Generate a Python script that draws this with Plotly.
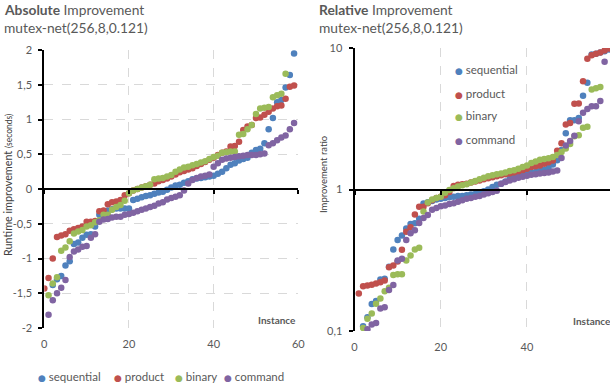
import plotly.graph_objects as go

W, H = 610, 384
FONT = "Lato"
GRAY = "#595959"
GRID = "#d9d9d9"

series_names = ["sequential", "product", "binary", "command"]
series_colors = ["#4F81BD", "#C0504D", "#9BBB59", "#8064A2"]

# ---------- Absolute improvement (seconds) ----------
abs_seq_x = list(range(2, 60))
abs_seq = [-1.38, -1.30, -1.25, -1.10, -1.04, -0.79, -0.77, -0.70, -0.66, -0.65, -0.54,
           -0.37, -0.35, -0.31, -0.29, -0.28, -0.28, -0.28, -0.28,
           -0.16, -0.14, -0.12, -0.10, -0.09, -0.07, -0.05, -0.04, -0.01, 0.02,
           0.05, 0.06, 0.09, 0.11, 0.14, 0.15, 0.16, 0.17, 0.18, 0.19,
           0.22, 0.25, 0.30, 0.35, 0.37, 0.41, 0.43, 0.45, 0.52, 0.56,
           0.58, 0.66, 0.86, 1.02, 1.25, 1.28, 1.46, 1.64, 1.95]

abs_prod_x = list(range(0, 60))
abs_prod = [-1.43, -1.28, -1.00, -0.69, -0.67, -0.65, -0.60, -0.58, -0.56, -0.54,
            -0.47, -0.47, -0.46, -0.32, -0.31, -0.22, -0.19, -0.18, -0.16, -0.09,
            -0.06, -0.02, 0.00, 0.02, 0.04, 0.06, 0.08, 0.11, 0.13, 0.15,
            0.18, 0.21, 0.24, 0.26, 0.28, 0.30, 0.33, 0.36, 0.39, 0.42,
            0.45, 0.49, 0.52, 0.54, 0.61, 0.62, 0.68, 0.85, 0.90, 0.92,
            1.02, 1.03, 1.07, 1.11, 1.16, 1.19, 1.20, 1.30, 1.47, 1.49]

abs_bin_x = list(range(1, 58))
abs_bin = [-1.53, -1.36, -1.27, -0.89, -0.84, -0.75, -0.64, -0.61, -0.59, -0.54,
           -0.52, -0.48, -0.45, -0.37, -0.37, -0.30, -0.26, -0.23, -0.17, -0.06,
           -0.02, 0.00, 0.02, 0.04, 0.06, 0.14, 0.15, 0.16, 0.18, 0.20,
           0.25, 0.28, 0.31, 0.32, 0.34, 0.36, 0.38, 0.40, 0.43, 0.46,
           0.48, 0.52, 0.53, 0.54, 0.54, 0.78, 0.79, 0.86, 0.92, 1.08,
           1.16, 1.17, 1.18, 1.32, 1.35, 1.37, 1.66]

abs_cmd_x = list(range(1, 60))
abs_cmd = [-1.81, -1.60, -1.50, -1.42, -1.31, -0.98, -0.90, -0.87, -0.83, -0.82,
           -0.70, -0.65, -0.47, -0.44, -0.43, -0.41, -0.40, -0.40, -0.37, -0.36,
           -0.34, -0.32, -0.30, -0.28, -0.26, -0.24, -0.21, -0.19, -0.15, -0.13,
           -0.11, -0.09, -0.02, 0.08, 0.13, 0.16, 0.18, 0.19, 0.21, 0.32,
           0.37, 0.42, 0.44, 0.45, 0.46, 0.47, 0.48, 0.49, 0.49, 0.49,
           0.50, 0.51, 0.63, 0.66, 0.70, 0.74, 0.77, 0.86, 0.95]

# ---------- Relative improvement (ratio) ----------
rel_seq_x = list(range(2, 60))
rel_seq = [0.108, 0.125, 0.155, 0.163, 0.231, 0.234, 0.285, 0.376, 0.439, 0.473,
           0.53, 0.571, 0.578, 0.621, 0.796, 0.813, 0.828, 0.849, 0.86, 0.87,
           0.88, 0.89, 0.90, 0.90, 0.91, 0.92, 0.93, 0.95, 0.97, 1.00,
           1.04, 1.08, 1.10, 1.14, 1.19, 1.24, 1.26, 1.28, 1.30, 1.31,
           1.33, 1.35, 1.38, 1.42, 1.50, 1.61, 1.90, 2.50, 3.09, 3.09,
           3.20, 4.60, 5.68, 9.00, 9.10, 9.30, 9.50, 9.75]

rel_prod_x = list(range(1, 60))
rel_prod = [0.184, 0.207, 0.210, 0.212, 0.217, 0.221, 0.227, 0.282, 0.290, 0.31,
            0.375, 0.502, 0.542, 0.665, 0.755, 0.755, 0.80, 0.84, 0.87, 0.89,
            0.91, 0.96, 1.06, 1.08, 1.09, 1.10, 1.12, 1.14, 1.16, 1.18,
            1.20, 1.22, 1.24, 1.26, 1.28, 1.30, 1.32, 1.34, 1.37, 1.40,
            1.44, 1.46, 1.48, 1.52, 1.56, 1.60, 1.88, 2.12, 2.88, 2.95,
            4.03, 4.05, 5.83, 8.40, 8.87, 9.10, 9.30, 9.60, 9.90]

rel_bin_x = list(range(2, 58))
rel_bin = [0.105, 0.122, 0.133, 0.156, 0.170, 0.191, 0.202, 0.249, 0.252, 0.252,
           0.315, 0.342, 0.376, 0.387, 0.70, 0.81, 0.85, 0.87, 0.89, 0.95,
           0.99, 1.02, 1.05, 1.07, 1.09, 1.12, 1.15, 1.18, 1.21, 1.24,
           1.26, 1.28, 1.30, 1.32, 1.35, 1.37, 1.40, 1.44, 1.48, 1.54,
           1.58, 1.62, 1.64, 1.66, 1.70, 1.75, 1.84, 1.95, 2.10, 2.38,
           2.42, 2.73, 2.78, 5.10, 5.20, 5.30]

rel_cmd_x = list(range(3, 59))
rel_cmd = [0.103, 0.111, 0.114, 0.144, 0.147, 0.195, 0.211, 0.315, 0.324, 0.439,
           0.491, 0.516, 0.58, 0.63, 0.66, 0.72, 0.74, 0.76, 0.77, 0.79,
           0.80, 0.82, 0.84, 0.86, 0.87, 0.89, 0.90, 0.92, 0.94, 0.96,
           0.98, 1.10, 1.13, 1.16, 1.18, 1.21, 1.23, 1.25, 1.27, 1.28,
           1.30, 1.31, 1.32, 1.34, 1.36, 1.67, 2.05, 2.20, 2.40, 3.04,
           3.48, 3.70, 3.88, 3.88, 4.22, 7.98]

abs_y_ticks = [-2, -1.5, -1, -0.5, 0, 0.5, 1, 1.5, 2]
abs_y_text = ["-2", "-1,5", "-1", "-0,5", "0", "0,5", "1", "1,5", "2"]
rel_y_ticks = [0.1, 1, 10]
rel_y_text = ["0,1", "1", "10"]
x_ticks = [0, 20, 40, 60]

abs_data = [(abs_seq_x, abs_seq), (abs_prod_x, abs_prod), (abs_bin_x, abs_bin), (abs_cmd_x, abs_cmd)]
rel_data = [(rel_seq_x, rel_seq), (rel_prod_x, rel_prod), (rel_bin_x, rel_bin), (rel_cmd_x, rel_cmd)]

fig = go.Figure()
for name, col, (xs, ys) in zip(series_names, series_colors, abs_data):
    fig.add_trace(go.Scatter(x=xs, y=ys, mode="markers", name=name, showlegend=False,
                             marker=dict(color=col, size=6.5, line=dict(width=0)),
                             xaxis="x", yaxis="y"))
for name, col, (xs, ys) in zip(series_names, series_colors, rel_data):
    fig.add_trace(go.Scatter(x=xs, y=ys, mode="markers", name=name, showlegend=False,
                             marker=dict(color=col, size=6.5, line=dict(width=0)),
                             xaxis="x2", yaxis="y2"))
# carriers for the horizontal axes drawn through y=0 / y=1
fig.add_trace(go.Scatter(x=[None], y=[None], xaxis="x3", yaxis="y", showlegend=False, hoverinfo="skip"))
fig.add_trace(go.Scatter(x=[None], y=[None], xaxis="x4", yaxis="y2", showlegend=False, hoverinfo="skip"))

L_dom = [44.3 / W, 298.3 / W]
R_dom = [354.5 / W, 1.0]
L_ydom = [1 - 328 / H, 1 - 50 / H]
R_ydom = [1 - 331 / H, 1 - 48 / H]

tickfont = dict(family=FONT, size=11, color=GRAY)
xcommon = dict(tickvals=x_ticks, showgrid=True, gridcolor=GRID, griddash="dash", gridwidth=1,
               zeroline=False, showline=False, ticks="outside", ticklen=6,
               tickcolor="rgba(0,0,0,0)", tickfont=tickfont)
ycommon = dict(showline=True, linecolor="black", linewidth=2, ticks="outside", ticklen=4,
               tickcolor="black", tickwidth=1.5, zeroline=False, tickfont=tickfont,
               ticklabelstandoff=4, gridcolor=GRID, gridwidth=1)
zcommon = dict(tickvals=x_ticks, showticklabels=False, ticks="outside", ticklen=4,
               tickcolor="black", tickwidth=1.5, showline=True, linecolor="black",
               linewidth=2, showgrid=False, zeroline=False, side="bottom", anchor="free")

fig.update_layout(
    width=W, height=H, margin=dict(l=0, r=0, t=0, b=0, autoexpand=False),
    paper_bgcolor="white", plot_bgcolor="white",
    font=dict(family=FONT, color=GRAY),
    showlegend=False,
    xaxis=dict(domain=L_dom, range=[0, 60], anchor="y", **xcommon),
    yaxis=dict(domain=L_ydom, range=[-2, 2], anchor="x", tickvals=abs_y_ticks,
               ticktext=abs_y_text, showgrid=True, griddash="dash", **ycommon),
    xaxis2=dict(domain=R_dom, range=[0, 59.25], anchor="y2", **xcommon),
    yaxis2=dict(domain=R_ydom, type="log", range=[-1, 1], anchor="x2",
                tickvals=rel_y_ticks, ticktext=rel_y_text, showgrid=True, **ycommon),
    xaxis3=dict(overlaying="x", range=[0, 60],
                position=L_ydom[0] + 0.5 * (L_ydom[1] - L_ydom[0]), **zcommon),
    xaxis4=dict(overlaying="x2", range=[0, 59.25],
                position=R_ydom[0] + 0.5 * (R_ydom[1] - R_ydom[0]), **zcommon),
)


def txt(text, x, y, xanchor="left", size=12, color=GRAY, angle=0):
    return dict(text=text, x=x / W, y=1 - y / H, xref="paper", yref="paper",
                xanchor=xanchor, yanchor="middle", showarrow=False, textangle=angle,
                font=dict(family=FONT, size=size, color=color))


ann = [
    txt("<b>Absolute</b> Improvement", 2, 10, size=13.8),
    txt("mutex-net(256,8,0.121)", 2, 27, size=13.8),
    txt("<b>Relative</b> Improvement", 317, 10, size=13.8),
    txt("mutex-net(256,8,0.121)", 317, 27, size=13.8),
    txt("<b>Instance</b>", 298.3, 319.5, xanchor="right", size=10),
    txt("<b>Instance</b>", 571, 320.5, size=10),
    txt("Runtime improvement <span style='font-size:8.5px'>(seconds)</span>", 8, 185,
        xanchor="center", size=10.8, color="#404040", angle=-90),
    txt("Improvement ratio", 323, 175, xanchor="center", size=9.5, color="#404040", angle=-90),
]


def legend_entry(name, color, x, y):
    return txt("<span style='color:%s;font-family:DejaVu Sans;font-size:9px'>\u25cf</span> %s"
               % (color, name), x, y, size=11.5)


bottom_legend_x = [36, 112, 173, 222]
for name, col, lx in zip(series_names, series_colors, bottom_legend_x):
    ann.append(legend_entry(name, col, lx, 376))
right_legend_y = [69, 93, 116, 139]
for name, col, ly in zip(series_names, series_colors, right_legend_y):
    ann.append(legend_entry(name, col, 453, ly))

fig.update_layout(annotations=ann)
fig.write_html("out.html", config={"displayModeBar": False},
               post_script="document.body.style.margin='0px';document.body.style.overflow='hidden';")
